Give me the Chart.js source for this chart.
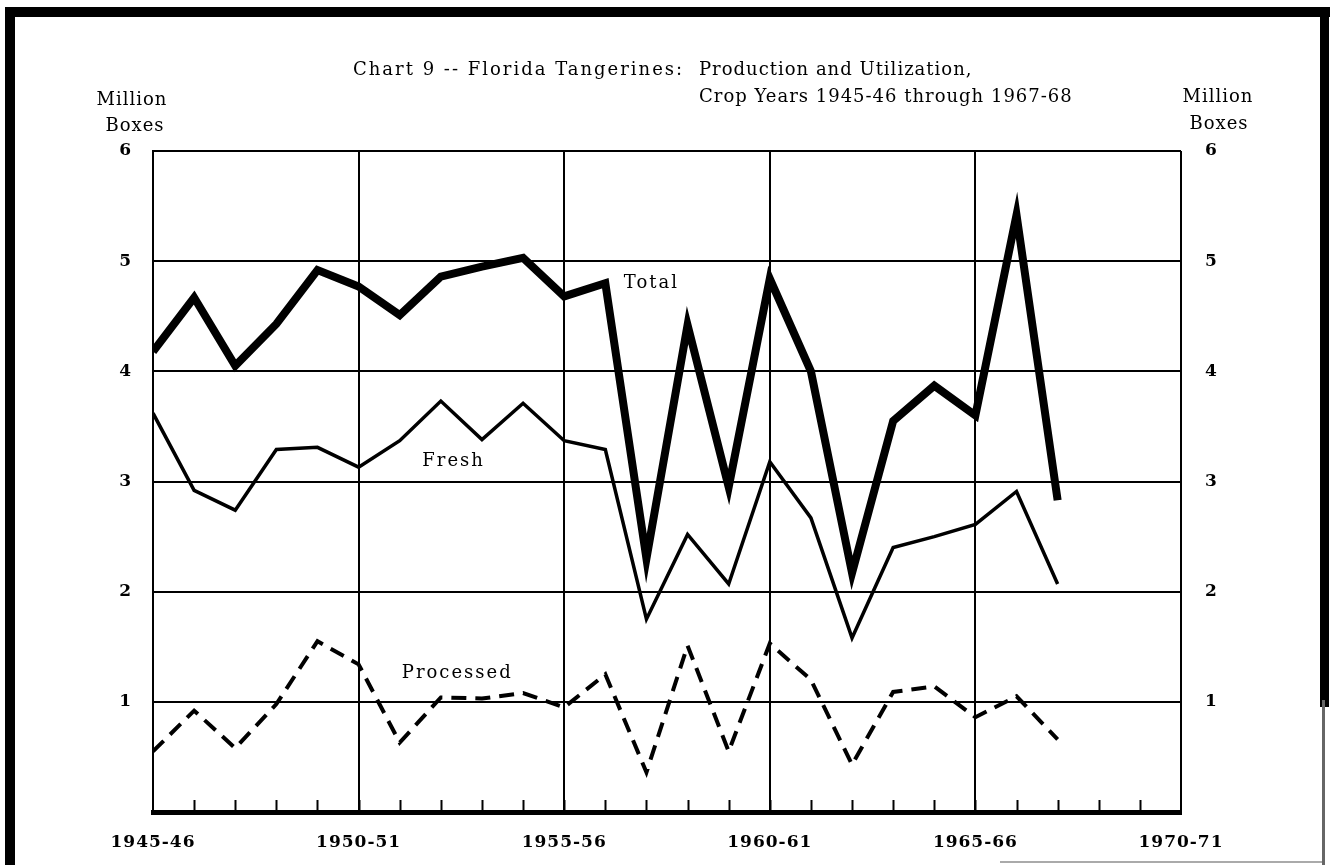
<!DOCTYPE html>
<html>
<head>
<meta charset="utf-8">
<title>Chart 9 -- Florida Tangerines</title>
<script src="https://cdn.jsdelivr.net/npm/chart.js@4.4.0/dist/chart.umd.min.js"></script>
<style>
  html, body { margin: 0; padding: 0; background: #fff; }
  #wrap { width: 1330px; height: 865px; }
</style>
</head>
<body>
<div id="wrap"><canvas id="tangerineChart" width="1330" height="865"></canvas></div>
<script>
// crop years (first year of the season) and million boxes
const cropYears = [1945, 1946, 1947, 1948, 1949, 1950, 1951, 1952, 1953, 1954, 1955, 1956,
                   1957, 1958, 1959, 1960, 1961, 1962, 1963, 1964, 1965, 1966, 1967];
const totalBoxes = [4.18, 4.67, 4.05, 4.43, 4.92, 4.77, 4.51, 4.86, 4.95, 5.03, 4.68, 4.80,
                    2.30, 4.42, 2.95, 4.84, 4.00, 2.17, 3.55, 3.87, 3.60, 5.42, 2.83];
const freshBoxes = [3.62, 2.92, 2.74, 3.29, 3.31, 3.13, 3.37, 3.73, 3.38, 3.71, 3.37, 3.29,
                    1.75, 2.52, 2.07, 3.18, 2.67, 1.58, 2.40, 2.50, 2.61, 2.91, 2.07];
const processedBoxes = [0.55, 0.92, 0.58, 0.98, 1.55, 1.34, 0.63, 1.04, 1.03, 1.08, 0.95, 1.25,
                        0.36, 1.51, 0.55, 1.53, 1.20, 0.43, 1.09, 1.14, 0.86, 1.05, 0.66];
const axisYears = [1945, 1970];
const boxTicks = [0, 6];

// series labels placed in data space
const seriesLabels = [
  { text: "Total", x: 1956.45, y: 4.8 },
  { text: "Fresh", x: 1951.55, y: 3.18 },
  { text: "Processed", x: 1951.05, y: 1.26 }
];

const serif = "'DejaVu Serif', 'Liberation Serif', serif";
Chart.defaults.font.family = serif;
Chart.defaults.color = "#000";

function points(values) {
  return cropYears.map((yr, i) => ({ x: yr, y: values[i] }));
}

function cropLabel(v) {
  return v + "-" + String((v + 1) % 100).padStart(2, "0");
}

const paperPlugin = {
  id: "paper",
  beforeDraw(chart) {
    const c = chart.ctx;
    c.save();
    c.fillStyle = "#fff";
    c.fillRect(0, 0, chart.width, chart.height);
    c.restore();
    c.letterSpacing = "1px";
  },
  afterDraw(chart) {
    const c = chart.ctx;
    const xs = chart.scales.x;
    const ys = chart.scales.y;
    const area = chart.chartArea;
    c.save();
    // small year ticks along the base line
    c.strokeStyle = "#000";
    c.lineWidth = 2;
    for (let yr = axisYears[0] + 1; yr < axisYears[1]; yr++) {
      const px = Math.round(xs.getPixelForValue(yr)) + 0.5;
      c.beginPath();
      c.moveTo(px, area.bottom);
      c.lineTo(px, area.bottom - 12);
      c.stroke();
    }
    // series labels
    c.font = "18px " + serif;
    c.fillStyle = "#000";
    c.textBaseline = "middle";
    c.textAlign = "left";
    c.letterSpacing = "2px";
    seriesLabels.forEach(l => {
      c.fillText(l.text, xs.getPixelForValue(l.x), ys.getPixelForValue(l.y));
    });
    // titles
    c.fillText("Chart 9 -- Florida Tangerines:", 353, 70);
    c.letterSpacing = "1px";
    c.fillText("Production and Utilization,", 699, 70);
    c.fillText("Crop Years 1945-46 through 1967-68", 699, 97);
    c.textAlign = "center";
    c.fillText("Million", 132, 100);
    c.fillText("Boxes", 135, 126);
    c.fillText("Million", 1218, 97);
    c.fillText("Boxes", 1219, 124);
    // page frame
    c.fillRect(5, 7, 1325, 10);
    c.fillRect(5, 7, 10, 858);
    c.fillRect(1320, 7, 9, 700);
    c.fillStyle = "#666";
    c.fillRect(1322, 700, 3, 165);
    c.fillStyle = "#aaa";
    c.fillRect(1000, 861, 322, 2);
    c.restore();
  }
};

const ctx = document.getElementById("tangerineChart").getContext("2d");

new Chart(ctx, {
  type: "line",
  data: {
    datasets: [
      {
        label: "Total",
        data: points(totalBoxes),
        borderColor: "#000",
        borderWidth: 8,
        borderJoinStyle: "miter",
        pointRadius: 0,
        tension: 0,
        fill: false
      },
      {
        label: "Fresh",
        data: points(freshBoxes),
        borderColor: "#000",
        borderWidth: 3.5,
        borderJoinStyle: "miter",
        pointRadius: 0,
        tension: 0,
        fill: false
      },
      {
        label: "Processed",
        data: points(processedBoxes),
        borderColor: "#000",
        borderWidth: 4,
        borderDash: [15, 9],
        borderJoinStyle: "miter",
        pointRadius: 0,
        tension: 0,
        fill: false
      }
    ]
  },
  options: {
    responsive: false,
    animation: false,
    layout: { padding: { top: 151, left: 0, right: 0, bottom: 0 } },
    plugins: {
      legend: { display: false },
      tooltip: { enabled: false },
      title: { display: false }
    },
    scales: {
      x: {
        type: "linear",
        position: "bottom",
        min: axisYears[0],
        max: axisYears[1],
        ticks: {
          stepSize: 5,
          padding: 20,
          maxRotation: 0,
          autoSkip: false,
          color: "#000",
          font: { size: 17, weight: "bold" },
          callback: v => cropLabel(v)
        },
        grid: { color: "#000", lineWidth: 2, drawTicks: false },
        border: { color: "#000", width: 5 },
        afterFit: s => { s.height = 53; }
      },
      y: {
        position: "left",
        min: boxTicks[0],
        max: boxTicks[1],
        ticks: {
          stepSize: 1,
          padding: 21,
          color: "#000",
          font: { size: 17, weight: "bold" },
          callback: v => (v === 0 ? "" : v)
        },
        grid: { color: "#000", lineWidth: 2, drawTicks: false },
        border: { color: "#000", width: 2 },
        afterFit: s => { s.width = 153; }
      },
      y2: {
        position: "right",
        min: boxTicks[0],
        max: boxTicks[1],
        ticks: {
          stepSize: 1,
          padding: 24,
          color: "#000",
          font: { size: 17, weight: "bold" },
          callback: v => (v === 0 ? "" : v)
        },
        grid: { drawOnChartArea: false, drawTicks: false },
        border: { display: false },
        afterFit: s => { s.width = 149; }
      }
    }
  },
  plugins: [paperPlugin]
});
</script>
</body>
</html>
